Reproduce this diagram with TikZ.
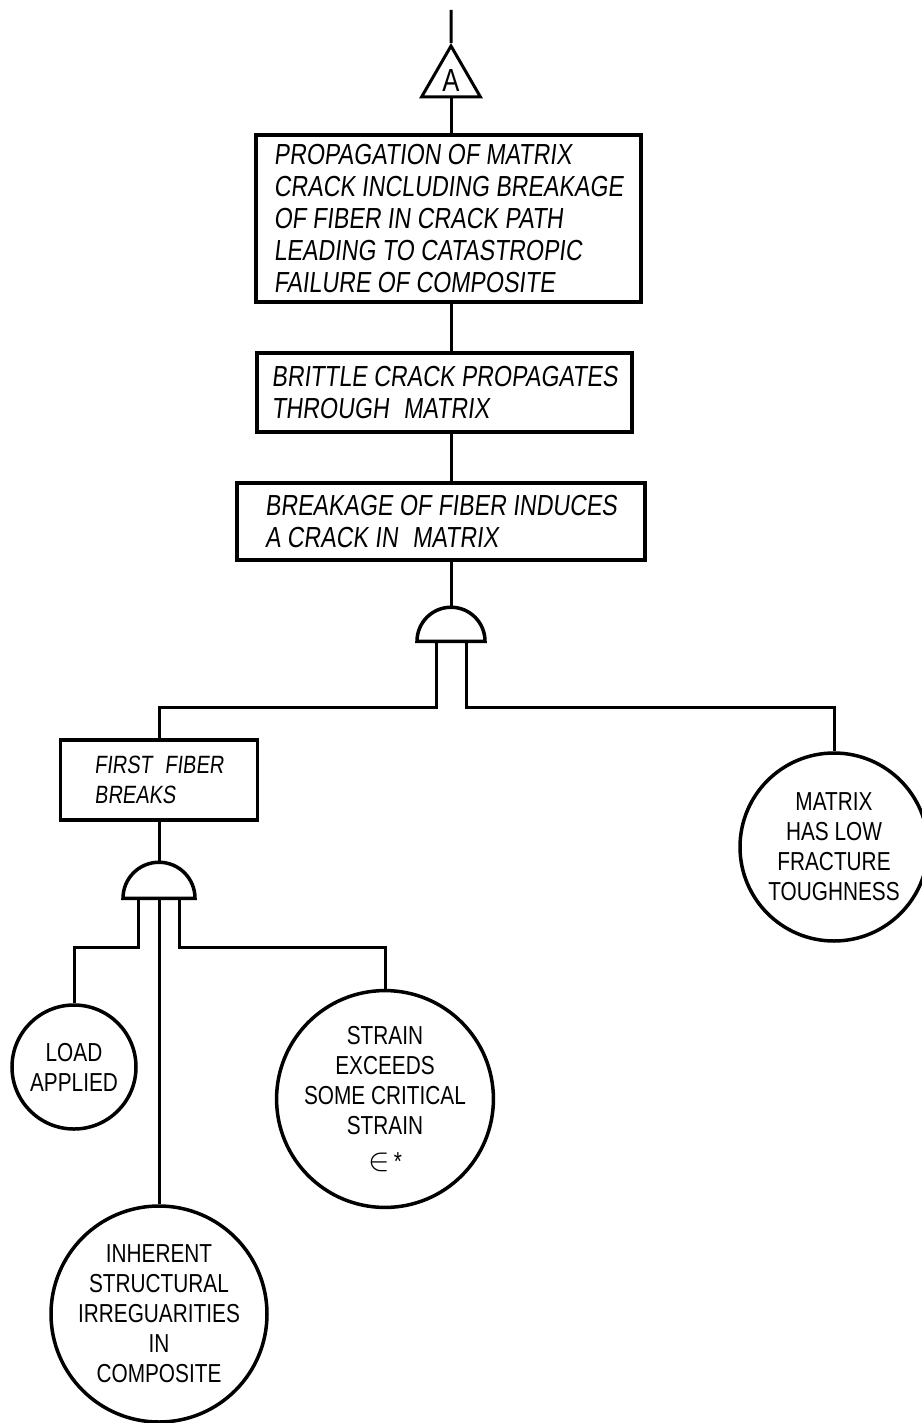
\documentclass[tikz,border=0pt]{standalone}
\usepackage{fontspec}
\usepackage{tikz}
\usetikzlibrary{positioning, shapes.geometric, calc}
\newfontfamily\boxfont[FakeSlant=0.12,FakeStretch=0.8]{Liberation Sans}
\newfontfamily\evfont[FakeStretch=0.8]{Liberation Sans}

\begin{document}
\begin{tikzpicture}[
    x=1pt, y=-1pt,
    ftbox/.style={rectangle, draw, line width=3.5pt, minimum width=#1, inner sep=0pt, align=left, font=\boxfont\fontsize{29}{32}\selectfont},
    event/.style={circle, draw, line width=3.5pt, inner sep=0pt, minimum size=#1, align=center, font=\evfont\fontsize{26}{30}\selectfont},
    andgate/.style={semicircle, draw, line width=3.5pt, inner sep=0pt, minimum width=#1, anchor=chord center},
    transfer/.style={regular polygon, regular polygon sides=3, draw, line width=3pt, inner sep=0pt, minimum size=68pt, font=\evfont\fontsize{32}{32}\selectfont},
    wire/.style={line width=3pt}
]
\useasboundingbox (0,0) rectangle (921,1423);

\coordinate (top) at (451,10);
\coordinate (spine) at (451,0);

\node[transfer] (tri) at (451,80) {\raisebox{-3pt}{A}};

\node[ftbox=385pt, minimum height=167pt] (prop) at (448.5,218.5) {PROPAGATION OF MATRIX\\CRACK INCLUDING BREAKAGE\\OF FIBER IN CRACK PATH\\LEADING TO CATASTROPIC\\FAILURE OF COMPOSITE};
\node[ftbox=375pt, minimum height=79pt] (brittle) at (444.5,392.5) {BRITTLE CRACK PROPAGATES\\THROUGH\enspace MATRIX};
\node[ftbox=408pt, minimum height=77pt] (induce) at (441,521.5) {BREAKAGE OF FIBER INDUCES\\A CRACK IN\enspace MATRIX};

\node[andgate=68pt] (g1) at (451,643) {};

\node[ftbox=197pt, minimum height=80pt, font=\boxfont\fontsize{25}{30}\selectfont] (first) at (159,780) {FIRST\enspace FIBER\\BREAKS};
\node[event=188pt] (matrix) at (834,847) {MATRIX\\HAS LOW\\FRACTURE\\TOUGHNESS};

\node[andgate=72pt] (g2) at (159,900) {};

\node[event=124pt] (load) at (74,1067) {LOAD\\APPLIED};
\node[event=210pt] (strain) at (385,1099) {STRAIN\\EXCEEDS\\SOME CRITICAL\\STRAIN\\[6pt]\scalebox{1.3}{$\in$}\,*};
\node[event=216pt] (inherent) at (159,1314) {INHERENT\\STRUCTURAL\\IRREGUARITIES\\IN\\COMPOSITE};

% main chain
\draw[wire] (top) -- (tri.north);
\draw[wire] (tri.south) -- (spine |- prop.north);
\draw[wire] (spine |- prop.south) -- (spine |- brittle.north);
\draw[wire] (spine |- brittle.south) -- (spine |- induce.north);
\draw[wire] (spine |- induce.south) -- (g1.apex);

% inputs of the upper gate
\draw[wire] ([xshift=-15pt]g1.chord center) -- ++(0,64) -| (first.north);
\draw[wire] ([xshift=15pt]g1.chord center) -- ++(0,64) -| (matrix.north);

% inputs of the lower gate
\draw[wire] (first.south) -- (g2.apex);
\draw[wire] ([xshift=-21pt]g2.chord center) -- ++(0,47) -| (load.north);
\draw[wire] (g2.chord center) -- (inherent.north);
\draw[wire] ([xshift=20pt]g2.chord center) -- ++(0,47) -| (strain.north);

\end{tikzpicture}
\end{document}
